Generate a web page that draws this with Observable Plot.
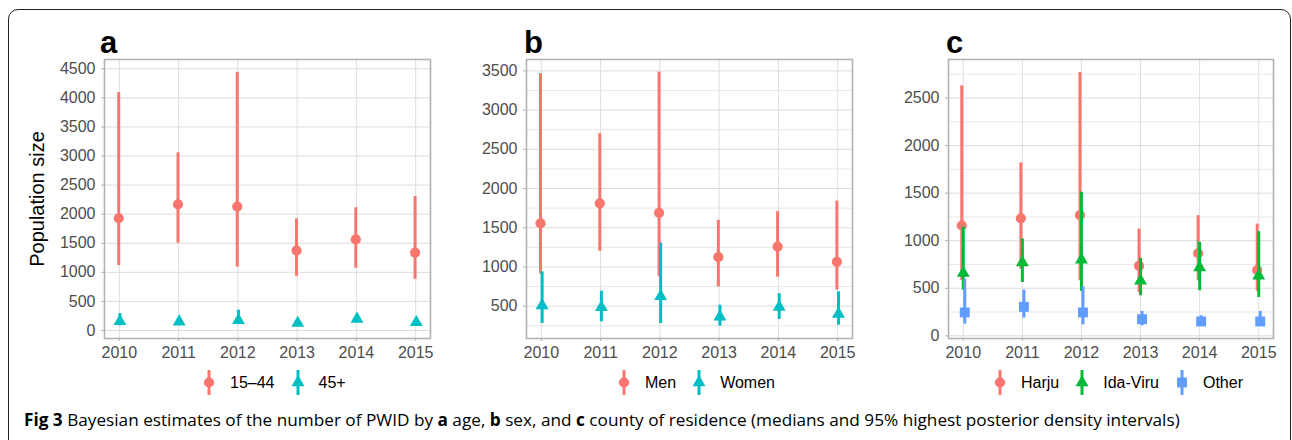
<!DOCTYPE html>
<html><head><meta charset="utf-8">
<script src="https://cdn.jsdelivr.net/npm/d3@7"></script>
<script src="https://cdn.jsdelivr.net/npm/@observablehq/plot@0.6"></script>
<style>
body{margin:0;background:#fff;}
#root{position:relative;width:1292px;height:440px;overflow:hidden;font-family:"Liberation Sans",Arial,sans-serif;background:#fff;}
.frame{position:absolute;left:8px;top:9px;width:1283px;height:470px;border:1.5px solid #222;border-radius:10px;box-sizing:border-box;z-index:10;pointer-events:none;background:transparent;}
.panel{position:absolute;top:20px;}
.letter{position:absolute;top:27px;font-weight:bold;font-size:31px;line-height:1;color:#000;}
.ytitle{position:absolute;left:37px;top:199px;transform:translate(-50%,-50%) rotate(-90deg);font-size:20px;white-space:nowrap;color:#000;}
.legend{position:absolute;top:370px;height:25px;display:flex;align-items:center;font-size:16px;color:#000;}
.legend svg{display:block;margin-right:11px;}
.legend span{margin-right:13px;}
.caption{position:absolute;left:24px;top:410px;font-family:"Open Sans",sans-serif;font-size:17.2px;line-height:20px;color:#000;white-space:nowrap;}
[aria-label="x-axis tick"] path,[aria-label="y-axis tick"] path,[aria-label="x-axis"] line,[aria-label="y-axis"] line{stroke:#b3b3b3;}
</style>
</head><body>
<div id="root"></div>
<script>
// ---- data ----
const years = [2010, 2011, 2012, 2013, 2014, 2015];

// panel a: age
const ageGroups = ["15–44", "45+"];
const age1544Median = [1930, 2170, 2130, 1375, 1565, 1340];
const age1544Lower  = [1115, 1500, 1090, 930, 1070, 880];
const age1544Upper  = [4090, 3055, 4440, 1920, 2110, 2305];
const age45Median   = [157, 151, 174, 127, 197, 139];
const age45Lower    = [80, 100, 100, 85, 145, 95];
const age45Upper    = [290, 215, 348, 170, 275, 190];
const ageTicks = [0, 500, 1000, 1500, 2000, 2500, 3000, 3500, 4000, 4500];

// panel b: sex
const sexGroups = ["Men", "Women"];
const menMedian   = [1555, 1810, 1690, 1125, 1260, 1065];
const menLower    = [910, 1200, 875, 745, 870, 705];
const menUpper    = [3465, 2700, 3485, 1595, 1705, 1840];
const womenMedian = [510, 485, 625, 365, 490, 400];
const womenLower  = [280, 300, 280, 245, 330, 258];
const womenUpper  = [938, 690, 1305, 513, 660, 683];
const sexTicks = [500, 1000, 1500, 2000, 2500, 3000, 3500];
const sexMinor = [250, 750, 1250, 1750, 2250, 2750, 3250];

// panel c: county
const countyGroups = ["Harju", "Ida-Viru", "Other"];
const harjuMedian = [1160, 1235, 1270, 735, 868, 690];
const harjuLower  = [583, 700, 579, 456, 579, 467];
const harjuUpper  = [2628, 1817, 2770, 1123, 1263, 1175];
const idaMedian   = [660, 772, 800, 579, 719, 632];
const idaLower    = [480, 561, 467, 421, 474, 404];
const idaUpper    = [1140, 1018, 1509, 814, 982, 1095];
const otherMedian = [246, 305, 246, 175, 151, 151];
const otherLower  = [123, 186, 116, 105, 105, 105];
const otherUpper  = [596, 481, 516, 256, 211, 256];
const countyTicks = [0, 500, 1000, 1500, 2000, 2500];
const countyMinor = [250, 750, 1250, 1750, 2250, 2750];

const colors2 = ["#F8766D", "#00BFC4"];
const colors3 = ["#F8766D", "#00BA38", "#619CFF"];

// ---- helpers ----
function rows(group, med, lo, hi) {
  return years.map((y, i) => ({year: y, group, med: med[i], lo: lo[i], hi: hi[i]}));
}
const symbolR = {circle: 5.1, triangle: 4.8, square: 5.6};

function panel({series, groups, colors, domain, ticks, minor, width, marginLeft, marginRight}) {
  const marks = [
    Plot.ruleY(minor, {stroke: "#e8e8e8", strokeWidth: 1}),
    Plot.ruleY(ticks, {stroke: "#dcdcdc", strokeWidth: 1}),
    Plot.ruleX(years, {stroke: "#dedede", strokeWidth: 1})
  ];
  for (const s of series) {
    marks.push(Plot.ruleX(s.data, {x: "year", y1: "lo", y2: "hi", stroke: "group", strokeWidth: 3, dx: s.dx}));
    marks.push(Plot.dot(s.data, {x: "year", y: "med", fill: "group", symbol: () => s.symbol, r: symbolR[s.symbol], dx: s.dx, stroke: "none"}));
  }
  marks.push(Plot.frame({stroke: "#b3b3b3", strokeWidth: 1.6}));
  return Plot.plot({
    width, height: 345,
    marginTop: 39, marginBottom: 27, marginLeft, marginRight,
    x: {type: "linear", domain: [2009.75, 2015.25], ticks: years, tickFormat: "d", tickSize: 3, tickPadding: 5, label: null},
    y: {domain, ticks, tickFormat: "d", tickSize: 3, tickPadding: 6, label: null},
    color: {domain: groups, range: colors},
    symbol: {domain: ["circle", "triangle", "square"], range: ["circle", "triangle", "square"]},
    style: {fontFamily: "Liberation Sans, Arial, sans-serif", fontSize: "16px", color: "#4d4d4d", background: "transparent", overflow: "visible"},
    marks
  });
}

function legendKey(color, symbol) {
  const ns = "http://www.w3.org/2000/svg";
  const svg = document.createElementNS(ns, "svg");
  svg.setAttribute("width", 20); svg.setAttribute("height", 25);
  const line = document.createElementNS(ns, "line");
  line.setAttribute("x1", 10); line.setAttribute("x2", 10);
  line.setAttribute("y1", 0); line.setAttribute("y2", 25);
  line.setAttribute("stroke", color); line.setAttribute("stroke-width", 3);
  svg.appendChild(line);
  const p = document.createElementNS(ns, "path");
  const sym = {circle: d3.symbolCircle, triangle: d3.symbolTriangle, square: d3.symbolSquare}[symbol];
  const r = symbolR[symbol];
  p.setAttribute("d", d3.symbol(sym, Math.PI * r * r)());
  p.setAttribute("transform", "translate(10,12.5)");
  p.setAttribute("fill", color);
  svg.appendChild(p);
  return svg;
}

function legend(left, groups, colors, symbols) {
  const div = document.createElement("div");
  div.className = "legend";
  div.style.left = left + "px";
  groups.forEach((g, i) => {
    div.appendChild(legendKey(colors[i], symbols[i]));
    const sp = document.createElement("span");
    sp.textContent = g;
    div.appendChild(sp);
  });
  return div;
}

const root = document.getElementById("root");

function place(el, left) {
  const wrap = document.createElement("div");
  wrap.className = "panel";
  wrap.style.left = left + "px";
  wrap.appendChild(el);
  root.appendChild(wrap);
}

// panel a
place(panel({
  series: [
    {data: rows(ageGroups[0], age1544Median, age1544Lower, age1544Upper), symbol: "circle", dx: -0.6},
    {data: rows(ageGroups[1], age45Median, age45Lower, age45Upper), symbol: "triangle", dx: 0.6}
  ],
  groups: ageGroups, colors: colors2, domain: [-138, 4660], ticks: ageTicks, minor: [],
  width: 440, marginLeft: 104, marginRight: 10
}), 0);

// panel b
place(panel({
  series: [
    {data: rows(sexGroups[0], menMedian, menLower, menUpper), symbol: "circle", dx: -0.8},
    {data: rows(sexGroups[1], womenMedian, womenLower, womenUpper), symbol: "triangle", dx: 0.8}
  ],
  groups: sexGroups, colors: colors2, domain: [88, 3645], ticks: sexTicks, minor: sexMinor,
  width: 430, marginLeft: 86, marginRight: 18
}), 440);

// panel c
place(panel({
  series: [
    {data: rows(countyGroups[0], harjuMedian, harjuLower, harjuUpper), symbol: "circle", dx: -1.5},
    {data: rows(countyGroups[1], idaMedian, idaLower, idaUpper), symbol: "triangle", dx: 0},
    {data: rows(countyGroups[2], otherMedian, otherLower, otherUpper), symbol: "square", dx: 1.5}
  ],
  groups: countyGroups, colors: colors3, domain: [-28, 2905], ticks: countyTicks, minor: countyMinor,
  width: 420, marginLeft: 78, marginRight: 17
}), 870);

// letters
[["a", 100], ["b", 524], ["c", 946]].forEach(([t, x]) => {
  const d = document.createElement("div");
  d.className = "letter"; d.style.left = x + "px"; d.textContent = t;
  root.appendChild(d);
});

// y title
const yt = document.createElement("div");
yt.className = "ytitle"; yt.textContent = "Population size";
root.appendChild(yt);

// legends
root.appendChild(legend(199, ageGroups, colors2, ["circle", "triangle"]));
root.appendChild(legend(614, sexGroups, colors2, ["circle", "triangle"]));
root.appendChild(legend(990, countyGroups, colors3, ["circle", "triangle", "square"]));

// caption
const cap = document.createElement("div");
cap.className = "caption";
cap.innerHTML = "<b>Fig 3</b> Bayesian estimates of the number of PWID by <b>a</b> age, <b>b</b> sex, and <b>c</b> county of residence (medians and 95% highest posterior density intervals)";
root.appendChild(cap);

// outer rounded frame (on top)
const frame = document.createElement("div"); frame.className = "frame"; root.appendChild(frame);
</script>
</body></html>
